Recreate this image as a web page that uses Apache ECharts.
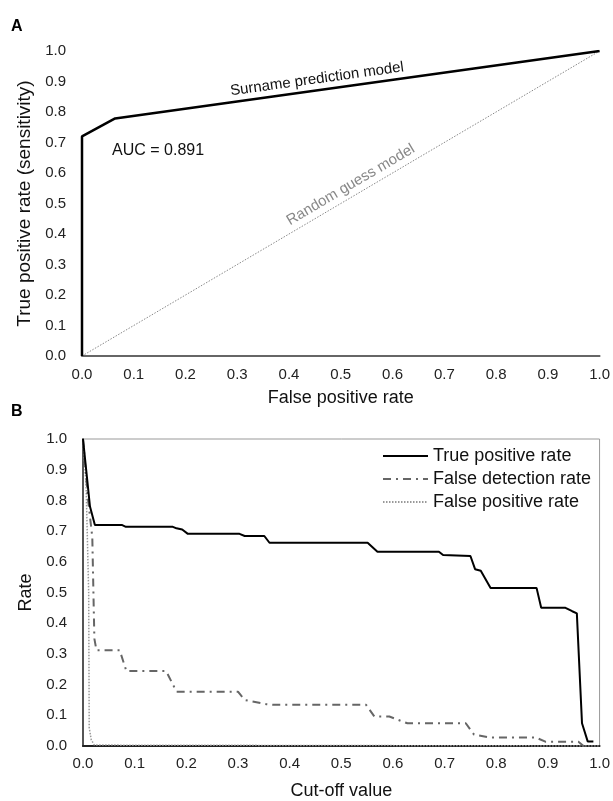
<!DOCTYPE html>
<html lang="en">
<head>
    <meta charset="UTF-8">
    <title>ROC curve and cut-off rates</title>
    <script src="https://cdn.jsdelivr.net/npm/echarts@6/dist/echarts.min.js"></script>
    <style>
        html, body { margin: 0; padding: 0; background: #fff; }
        #main { width: 613px; height: 801px; }
    </style>
</head>
<body>
    <div id="main"></div>

    <script>
        var myChart = echarts.init(document.getElementById('main'));
        var font = 'Liberation Sans, Arial, sans-serif';

        // Panel A: ROC curve
        var rocFpr = [0, 0, 0.064, 1.0];
        var rocTpr = [0, 0.72, 0.779, 1.0];
        var guessFpr = [0, 1];
        var guessTpr = [0, 1];

        // Panel B: rates against cut-off value
        var tprCut = [0, 0.0135, 0.023, 0.075, 0.083, 0.174, 0.181, 0.192, 0.203, 0.303, 0.313, 0.351, 0.361, 0.551, 0.570, 0.689, 0.697, 0.750, 0.759, 0.770, 0.789, 0.878, 0.887, 0.934, 0.947, 0.956, 0.966, 0.977, 0.988];
        var tprVal = [1.0, 0.78, 0.72, 0.72, 0.714, 0.714, 0.709, 0.705, 0.691, 0.691, 0.684, 0.684, 0.662, 0.662, 0.633, 0.633, 0.622, 0.619, 0.576, 0.571, 0.515, 0.515, 0.450, 0.450, 0.439, 0.432, 0.074, 0.015, 0.015];

        var fdrCut = [0, 0.01, 0.018, 0.022, 0.026, 0.071, 0.084, 0.161, 0.181, 0.300, 0.313, 0.355, 0.367, 0.548, 0.564, 0.593, 0.628, 0.741, 0.757, 0.786, 0.876, 0.895, 0.959, 0.969, 0.975];
        var fdrVal = [1.0, 0.8, 0.68, 0.35, 0.312, 0.312, 0.244, 0.244, 0.177, 0.177, 0.150, 0.136, 0.134, 0.134, 0.096, 0.096, 0.074, 0.074, 0.037, 0.028, 0.028, 0.014, 0.014, 0, 0];

        var fprCut = [0, 0.006, 0.011, 0.012, 0.016, 0.022, 1.0];
        var fprVal = [1.0, 0.85, 0.5, 0.06, 0.02, 0.003, 0];

        var seriesNames = ['True positive rate', 'False detection rate', 'False positive rate'];

        function pairs(xs, ys) {
            return xs.map(function (x, i) { return [x, ys[i]]; });
        }

        function valueAxis(gridIndex, name, gap, labelMargin, lineColor, showLine, nameSize) {
            return {
                type: 'value',
                gridIndex: gridIndex,
                min: 0,
                max: 1,
                interval: 0.1,
                name: name,
                nameLocation: 'middle',
                nameGap: gap,
                nameTextStyle: { fontFamily: font, fontSize: nameSize || 18, color: '#111' },
                axisLine: { show: showLine, onZero: false, lineStyle: { color: lineColor, width: 2 } },
                axisTick: { show: false },
                splitLine: { show: false },
                axisLabel: {
                    fontFamily: font, fontSize: 15, color: '#222', margin: labelMargin,
                    formatter: function (v) { return v.toFixed(1); }
                }
            };
        }

        var option = {
            animation: false,
            grid: [
                { left: 82, top: 51, width: 519, height: 305 },
                { left: 83, top: 439, width: 518, height: 309, show: true, borderColor: '#999', borderWidth: 1 }
            ],
            xAxis: [
                valueAxis(0, 'False positive rate', 33, 11, '#666', true),
                valueAxis(1, 'Cut-off value', 36, 10, '#222', true)
            ],
            yAxis: [
                valueAxis(0, 'True positive rate (sensitivity)', 45, 16, '#222', false, 19),
                valueAxis(1, 'Rate', 45, 16, '#555', true)
            ],
            legend: {
                data: seriesNames,
                orient: 'vertical',
                left: 377,
                top: 442,
                itemWidth: 45,
                itemHeight: 14,
                itemGap: 5,
                itemStyle: { opacity: 0 },
                textStyle: { fontFamily: font, fontSize: 18, color: '#111' }
            },
            series: [
                {
                    name: 'Random guess model',
                    type: 'line',
                    xAxisIndex: 0, yAxisIndex: 0,
                    data: pairs(guessFpr, guessTpr),
                    symbol: 'none',
                    lineStyle: { color: '#888', width: 1, type: [1.5, 1.5] }
                },
                {
                    name: 'Surname prediction model',
                    type: 'line',
                    xAxisIndex: 0, yAxisIndex: 0,
                    data: pairs(rocFpr, rocTpr),
                    symbol: 'none',
                    lineStyle: { color: '#000', width: 2.5 }
                },
                {
                    name: seriesNames[2],
                    type: 'line',
                    xAxisIndex: 1, yAxisIndex: 1,
                    data: pairs(fprCut, fprVal),
                    symbol: 'none',
                    itemStyle: { color: '#999' },
                    lineStyle: { color: '#999', width: 1.5, type: [1.5, 1.5] }
                },
                {
                    name: seriesNames[1],
                    type: 'line',
                    xAxisIndex: 1, yAxisIndex: 1,
                    data: pairs(fdrCut, fdrVal),
                    symbol: 'none',
                    itemStyle: { color: '#666' },
                    lineStyle: { color: '#666', width: 2, type: [8, 5, 2, 5] }
                },
                {
                    name: seriesNames[0],
                    type: 'line',
                    xAxisIndex: 1, yAxisIndex: 1,
                    data: pairs(tprCut, tprVal),
                    symbol: 'none',
                    itemStyle: { color: '#000' },
                    lineStyle: { color: '#000', width: 2 }
                }
            ]
        };

        myChart.setOption(option);

        // annotations placed from data coordinates of panel A
        function px(p) { return myChart.convertToPixel({ gridIndex: 0 }, p); }

        function alongLabel(text, p1, p2, t, offset, color) {
            var a = px(p1), b = px(p2);
            var ang = Math.atan2(a[1] - b[1], b[0] - a[0]);
            var cx = a[0] + (b[0] - a[0]) * t - Math.sin(ang) * offset;
            var cy = a[1] + (b[1] - a[1]) * t - Math.cos(ang) * offset;
            return {
                type: 'text',
                x: cx, y: cy,
                rotation: ang,
                style: {
                    text: text, fill: color, font: '15px ' + font,
                    align: 'center', verticalAlign: 'middle'
                }
            };
        }

        var auc = px([0.058, 0.675]);
        myChart.setOption({
            graphic: [
                { type: 'text', left: 11, top: 19, style: { text: 'A', fill: '#000', font: 'bold 16px ' + font } },
                { type: 'text', left: 11, top: 404, style: { text: 'B', fill: '#000', font: 'bold 16px ' + font } },
                {
                    type: 'text', x: auc[0], y: auc[1],
                    style: { text: 'AUC = 0.891', fill: '#111', font: '16px ' + font, verticalAlign: 'middle' }
                },
                alongLabel('Surname prediction model', [rocFpr[2], rocTpr[2]], [rocFpr[3], rocTpr[3]], 0.42, 11, '#111'),
                alongLabel('Random guess model', [guessFpr[0], guessTpr[0]], [guessFpr[1], guessTpr[1]], 0.53, 11, '#888')
            ]
        });
    </script>
</body>
</html>
